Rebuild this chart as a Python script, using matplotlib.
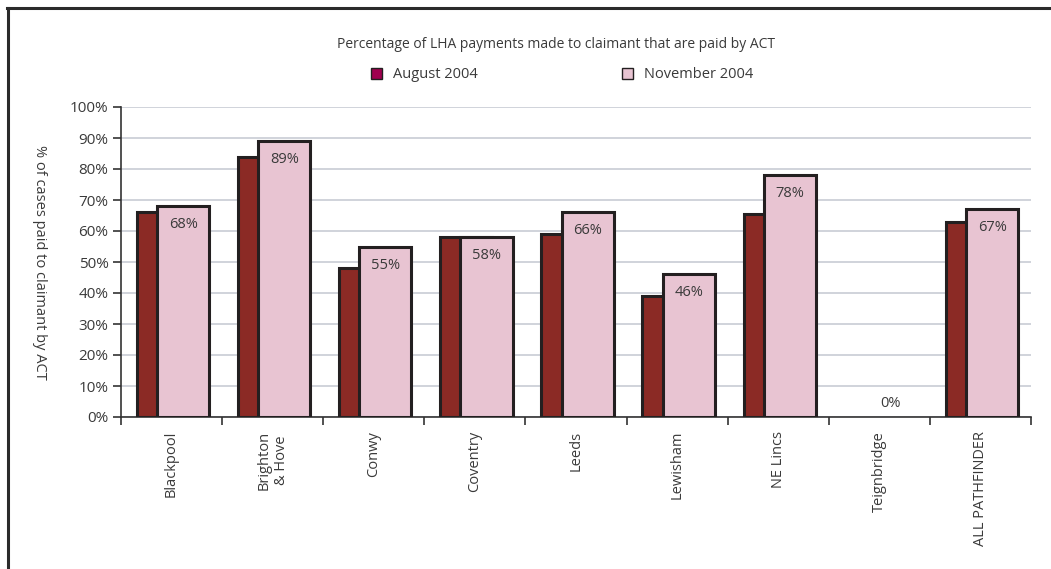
import matplotlib.pyplot as plt
import numpy as np
from matplotlib.patches import Patch
from matplotlib.lines import Line2D

plt.rcParams['font.family'] = ['Open Sans', 'DejaVu Sans']

# Share of LHA payments to claimant paid by ACT, per pathfinder area
areas = ['Blackpool', 'Brighton\n& Hove', 'Conwy', 'Coventry', 'Leeds',
         'Lewisham', 'NE Lincs', 'Teignbridge', 'ALL PATHFINDER']
aug_2004 = [0.66, 0.84, 0.48, 0.58, 0.59, 0.39, 0.655, 0.0, 0.63]
nov_2004 = [0.68, 0.89, 0.55, 0.58, 0.66, 0.46, 0.78, 0.0, 0.67]

aug_color = '#8B2A25'
nov_color = '#E8C4D2'
edge = '#231F20'
text_color = '#3a3a3a'
fs = 10.5

fig = plt.figure(figsize=(10.51, 5.69), dpi=100)
ax = fig.add_axes([121 / 1051, 1 - 417 / 569, 910 / 1051, 310 / 569])

x = np.arange(len(areas))
w = 0.515
off = 0.1
# zero-height bars get no outline
aug_lw = [2.2 if v > 0 else 0 for v in aug_2004]
nov_lw = [2.2 if v > 0 else 0 for v in nov_2004]
ax.bar(x - off + 0.015, aug_2004, w, color=aug_color, edgecolor=edge, linewidth=aug_lw, zorder=3)
ax.bar(x + off + 0.015, nov_2004, w, color=nov_color, edgecolor=edge, linewidth=nov_lw, zorder=4)

# value labels on the November bars
for xi, v in zip(x, nov_2004):
    y = v - 0.06 if v > 0.1 else 0.045
    ax.text(xi + off + 0.015, y, f'{v:.0%}', ha='center', va='center',
            fontsize=fs, color=text_color, zorder=5)

ax.set_xlim(-0.5, len(areas) - 0.5)
ax.set_ylim(0, 1.0)
ax.set_yticks(np.arange(0, 1.01, 0.1))
ax.set_yticklabels([f'{int(round(t * 100))}%' for t in np.arange(0, 1.01, 0.1)])
ax.yaxis.grid(True, color='#D0D3DA', linewidth=1.4, zorder=0)
ax.set_axisbelow(True)

ax.set_xticks(x)
ax.set_xticklabels(areas, rotation=90, va='top', ha='center', multialignment='center')
ax.set_xticks(np.arange(-0.5, len(areas)), minor=True)
ax.tick_params(axis='x', which='major', length=0, pad=10, labelsize=fs, labelcolor=text_color)
ax.tick_params(axis='x', which='minor', length=6, width=1.2, color='#333333', direction='out')
ax.tick_params(axis='y', length=6, width=1.2, color='#333333', labelsize=11,
               labelcolor=text_color, pad=3)

for s in ['top', 'right']:
    ax.spines[s].set_visible(False)
for s in ['left', 'bottom']:
    ax.spines[s].set_color('#333333')
    ax.spines[s].set_linewidth(1.2)

ax.set_ylabel('% of cases paid to claimant by ACT', rotation=270, fontsize=fs,
              color=text_color, va='center')
ax.yaxis.set_label_coords(-0.09, 0.5)

fig.text(556 / 1051, 1 - 44 / 569, 'Percentage of LHA payments made to claimant that are paid by ACT',
         ha='center', va='center', fontsize=10, color=text_color)

handles = [Patch(facecolor='#A0004F', edgecolor=edge, linewidth=1.0),
           Patch(facecolor=nov_color, edgecolor=edge, linewidth=1.0)]
fig.legend(handles, ['August 2004', 'November 2004'], loc='center',
           bbox_to_anchor=(562 / 1051, 1 - 75 / 569), ncol=2, frameon=False,
           fontsize=fs, handlelength=0.75, handleheight=0.75, handletextpad=0.75,
           columnspacing=9.9, labelcolor=text_color)

# frame lines along the top and left edges
fig.add_artist(Line2D([7 / 1051, 1], [1 - 8 / 569, 1 - 8 / 569], color='#2b2b2b', linewidth=2.2))
fig.add_artist(Line2D([8 / 1051, 8 / 1051], [1 - 8 / 569, 0], color='#2b2b2b', linewidth=2.2))

fig.savefig('out.png', dpi=100)
